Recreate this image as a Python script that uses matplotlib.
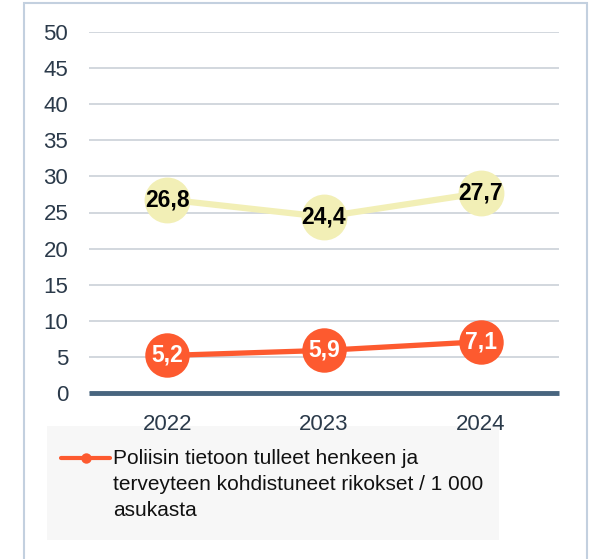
import matplotlib.pyplot as plt
from matplotlib.patches import Rectangle
from matplotlib.lines import Line2D

years = ["2022", "2023", "2024"]
hyvinvointi = [26.8, 24.4, 27.7]
rikokset = [5.2, 5.9, 7.1]
yticks = [0, 5, 10, 15, 20, 25, 30, 35, 40, 45, 50]
legend_label = "Poliisin tietoon tulleet henkeen ja\nterveyteen kohdistuneet rikokset / 1 000\nasukasta"

plt.rcParams["font.family"] = ["Liberation Sans", "DejaVu Sans"]

fig = plt.figure(figsize=(5.95, 5.59), dpi=100)
W, H = 595, 559

# outer frame
fig.patches.append(Rectangle((24 / W, -0.01), 563 / W, 556 / H + 0.01, transform=fig.transFigure,
                             fill=False, edgecolor="#c3d0df", linewidth=1.5, zorder=-2))
# legend box
fig.patches.append(Rectangle((47 / W, 1 - 540 / H), 452 / W, 114 / H, transform=fig.transFigure,
                             facecolor="#f7f7f7", edgecolor="none", zorder=-1))

ax = fig.add_axes([89 / W, 1 - 393 / H, 470 / W, 361 / H])
ax.patch.set_alpha(0)
x = range(len(years))

ax.plot(x, hyvinvointi, color="#f2efb6", linewidth=4.5, marker="o", markersize=33,
        markeredgewidth=0, zorder=3)
ax.plot(x, rikokset, color="#fd5a2f", linewidth=3.8, marker="o", markersize=32,
        markeredgewidth=0, zorder=3)

for i, v in enumerate(hyvinvointi):
    ax.text(i, v, f"{v:.1f}".replace(".", ","), ha="center", va="center",
            fontsize=16.5, fontweight="bold", color="black", zorder=4)
for i, v in enumerate(rikokset):
    ax.text(i, v, f"{v:.1f}".replace(".", ","), ha="center", va="center",
            fontsize=16.5, fontweight="bold", color="white", zorder=4)

ax.set_xlim(-0.5, len(years) - 0.5)
ax.set_ylim(0, 50)
ax.set_yticks(yticks)
ax.set_xticks(list(x))
ax.set_xticklabels(years)
ax.grid(axis="y", color="#cfd4db", linewidth=1.3)
ax.set_axisbelow(True)
ax.axhline(0, color="#48657f", linewidth=3.5, zorder=2, solid_capstyle="butt", clip_on=False)
for s in ax.spines.values():
    s.set_visible(False)
ax.tick_params(length=0, labelsize=16, colors="#2b3a4a")
ax.tick_params(axis="y", pad=15)
ax.tick_params(axis="x", pad=15)

# legend entry
fig.lines.append(Line2D([61 / W, 110 / W], [1 - 458 / H, 1 - 458 / H], transform=fig.transFigure,
                        color="#fd5a2f", linewidth=3, solid_capstyle="round"))
fig.lines.append(Line2D([86 / W], [1 - 458 / H], transform=fig.transFigure, color="#fd5a2f",
                        marker="o", markersize=7.5, markeredgewidth=0))
fig.text(113 / W, 1 - 449 / H, legend_label, ha="left", va="top", fontsize=15,
         color="#111111", linespacing=1.45)

fig.savefig("out.png", dpi=100)
